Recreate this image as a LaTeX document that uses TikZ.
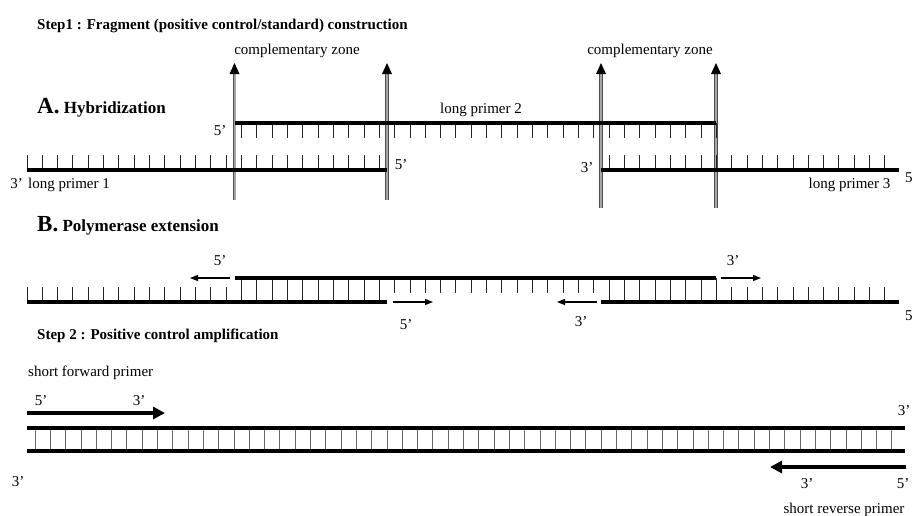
\documentclass[tikz,border=0pt]{standalone}
\usepackage{fontspec}
\setmainfont{Liberation Serif}
\usetikzlibrary{arrows.meta}

\tikzset{
  strand/.style={line width=3.4pt, draw=black},
  tickmark/.style={line width=1pt, draw=black!85},
  rung/.style={line width=0.8pt, draw=black!60},
  zone/.style={draw=black!70, line width=0.9pt, double=black!35, double distance=2pt},
  zonehead/.style={fill=black},
  ext/.style={line width=1.2pt, draw=black, -{Triangle[length=8pt,width=6pt]}},
  primer/.style={line width=4pt, draw=black, -{Triangle[length=12pt,width=12pt]}},
  lbl/.style={font=\fontsize{15}{17}\selectfont, inner sep=0pt, anchor=base},
  title/.style={font=\fontsize{15}{17}\selectfont\bfseries, inner sep=0pt, anchor=base west},
  sect/.style={font=\fontsize{17}{19}\selectfont\bfseries, inner sep=0pt, anchor=base west},
}

\begin{document}
\begin{tikzpicture}[x=1pt, y=-1pt]
\useasboundingbox (0,0) rectangle (913,515);

% ---------------- Step 1 ----------------
\node[title] (step1) at (37,29) {Step1 : Fragment (positive control/standard) construction};

% A. Hybridization
\node[sect] (secA) at (37,113) {{\fontsize{23}{25}\selectfont A.} Hybridization};

% complementary zones
\coordinate (za1) at (234.5,200); \coordinate (za1t) at (234.5,63);
\coordinate (za2) at (387,200);   \coordinate (za2t) at (387,63);
\coordinate (za3) at (601,208);   \coordinate (za3t) at (601,63);
\coordinate (za4) at (716,208);   \coordinate (za4t) at (716,63);
\foreach \z in {za1,za2,za3,za4}{
  \draw[zone] (\z) -- ([shift={(0,10)}]\z t);
  \fill[zonehead] ([shift={(-5,11)}]\z t) -- (\z t) -- ([shift={(5,11)}]\z t) -- cycle;
}
\node[lbl] (cz1) at (297,54) {complementary zone};
\node[lbl] (cz2) at (650,54) {complementary zone};

% long primers
\coordinate (p2s) at (234.5,123); \coordinate (p2e) at (716,123);
\coordinate (p1s) at (27,170);    \coordinate (p1e) at (387,170);
\coordinate (p3s) at (601,170);   \coordinate (p3e) at (899,170);

\foreach \k in {14,...,45}
  \draw[tickmark] ({27+15.32*\k},123) -- ({27+15.32*\k},138);
\foreach \k in {0,...,23}
  \draw[tickmark] ({27+15.32*\k},170) -- ({27+15.32*\k},155);
\foreach \k in {38,...,56}
  \draw[tickmark] ({27+15.32*\k},170) -- ({27+15.32*\k},155);

\draw[strand] (p2s) -- (p2e);
\draw[strand] (p1s) -- (p1e);
\draw[strand] (p3s) -- (p3e);

\node[lbl] (lp2) at (481,113) {long primer 2};
\node[lbl] (p2five) at (220,135) {5'};
\node[lbl] (p1three) at (16.5,188) {3'};
\node[lbl, anchor=base west] (lp1) at (28,188) {long primer 1};
\node[lbl] (p1five) at (401,169) {5'};
\node[lbl] (p3three) at (587,172) {3'};
\node[lbl, anchor=base west] (p3five) at (905,182) {5};
\node[lbl] (lp3) at (849.5,188) {long primer 3};

% B. Polymerase extension
\node[sect] (secB) at (37,231.5) {{\fontsize{23}{25}\selectfont B.} Polymerase extension};

\coordinate (bt1) at (234.5,278); \coordinate (bt2) at (716,278);
\coordinate (bl1) at (27,302);    \coordinate (bl2) at (387,302);
\coordinate (br1) at (601,302);   \coordinate (br2) at (899,302);

\foreach \k in {0,...,13}
  \draw[tickmark] ({27+15.32*\k},302) -- ({27+15.32*\k},287);
\foreach \k in {14,...,23}
  \draw[tickmark] ({27+15.32*\k},278) -- ({27+15.32*\k},302);
\foreach \k in {24,...,37}
  \draw[tickmark] ({27+15.32*\k},278) -- ({27+15.32*\k},293);
\foreach \k in {38,...,45}
  \draw[tickmark] ({27+15.32*\k},278) -- ({27+15.32*\k},302);
\foreach \k in {46,...,56}
  \draw[tickmark] ({27+15.32*\k},302) -- ({27+15.32*\k},287);

\draw[strand] (bt1) -- (bt2);
\draw[strand] (bl1) -- (bl2);
\draw[strand] (br1) -- (br2);

% extension directions
\coordinate (e1a) at (230,278); \coordinate (e1b) at (190,278);
\coordinate (e2a) at (393,302); \coordinate (e2b) at (433,302);
\coordinate (e3a) at (721,278); \coordinate (e3b) at (761,278);
\coordinate (e4a) at (597,302); \coordinate (e4b) at (557,302);
\draw[ext] (e1a) -- (e1b);
\draw[ext] (e2a) -- (e2b);
\draw[ext] (e3a) -- (e3b);
\draw[ext] (e4a) -- (e4b);

\node[lbl] (b5a) at (220,265) {5'};
\node[lbl] (b5b) at (406,329) {5'};
\node[lbl] (b3a) at (733,265) {3'};
\node[lbl] (b3b) at (581,326) {3'};
\node[lbl, anchor=base west] (b5c) at (905,320) {5};

% ---------------- Step 2 ----------------
\node[title] (step2) at (37,339) {Step 2 : Positive control amplification};

\node[lbl, anchor=base west] (fwd) at (28,376) {short forward primer};
\node[lbl] (f5) at (41,405) {5'};
\node[lbl] (f3) at (139,405) {3'};
\coordinate (fa) at (27,413); \coordinate (fb) at (165,413);
\draw[primer] (fa) -- (fb);

\coordinate (d1s) at (27,428); \coordinate (d1e) at (905,428);
\coordinate (d2s) at (27,451); \coordinate (d2e) at (905,451);
\foreach \k in {0,...,56}
  \draw[rung] ({35+15.3*\k},428) -- ({35+15.3*\k},451);
\draw[strand] (d1s) -- (d1e);
\draw[strand] (d2s) -- (d2e);

\node[lbl] (d3r) at (904,415) {3'};
\node[lbl] (d3l) at (18,486.5) {3'};

\coordinate (ra) at (906,467); \coordinate (rb) at (770,467);
\draw[primer] (ra) -- (rb);
\node[lbl] (r3) at (807,488) {3'};
\node[lbl] (r5) at (903,488) {5'};
\node[lbl] (rev) at (844,513) {short reverse primer};
\end{tikzpicture}
\end{document}
